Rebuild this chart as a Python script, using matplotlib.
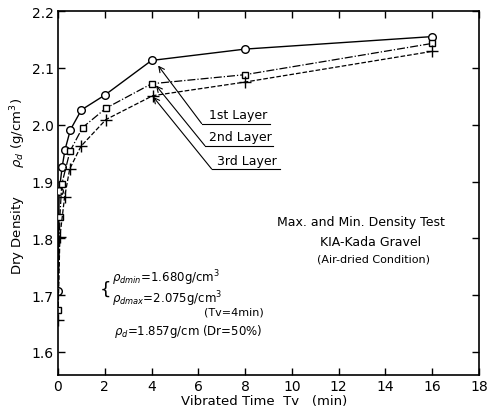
import numpy as np
import matplotlib
matplotlib.use("Agg")
from matplotlib import pyplot as plt

# vibrated time (min) and dry density (g/cm3)
t_1st = [0, 0.05, 0.18, 0.3, 0.53, 1.0, 2.0, 4.0, 8.0, 16.0]
rho_1st = [1.707, 1.883, 1.926, 1.956, 1.991, 2.026, 2.052, 2.113, 2.133, 2.155]

t_2nd = [0, 0.08, 0.16, 0.51, 1.05, 2.05, 4.0, 8.0, 16.0]
rho_2nd = [1.674, 1.838, 1.895, 1.953, 1.995, 2.029, 2.072, 2.088, 2.143]

t_3rd = [0, 0.08, 0.28, 0.5, 0.98, 2.05, 4.05, 8.0, 16.0]
rho_3rd = [1.657, 1.802, 1.872, 1.922, 1.962, 2.009, 2.051, 2.075, 2.129]

layer_names = ["1st Layer", "2nd Layer", "3rd Layer"]

xticks = np.arange(0, 19, 2)
yticks = [1.6, 1.7, 1.8, 1.9, 2.0, 2.1, 2.2]

plt.rcParams['font.family'] = ['DejaVu Sans']
fig = plt.figure(figsize=(4.89, 4.10), dpi=100)
ax = fig.add_axes([0.1186, 0.0829, 0.8610, 0.8878])

ax.plot(t_1st, rho_1st, '-', color='black', lw=1.0, marker='o', ms=5.5,
        mfc='white', mec='black', mew=1.0, zorder=3)
ax.plot(t_2nd, rho_2nd, '-.', color='black', lw=0.9, marker='s', ms=5,
        mfc='white', mec='black', mew=1.0, zorder=3)
ax.plot(t_3rd, rho_3rd, '--', color='black', lw=0.9, marker='+', ms=8,
        mec='black', mew=1.0, zorder=3)

# leader lines to the layer labels
tips = [(4.28, 2.104), (4.19, 2.069), (4.07, 2.049)]
elbows = [(6.14, 2.002), (6.28, 1.963), (6.57, 1.922)]
ends = [9.06, 9.19, 9.49]
text_x = [6.45, 6.45, 6.80]
for name, tip, elb, xe, tx in zip(layer_names, tips, elbows, ends, text_x):
    ax.annotate("", xy=tip, xytext=elb,
                arrowprops=dict(arrowstyle='->', color='black', lw=0.8,
                                shrinkA=0, shrinkB=0))
    ax.plot([elb[0], xe], [elb[1], elb[1]], color='black', lw=0.8)
    ax.text(tx, elb[1] + 0.004, name, fontsize=9, ha='left', va='bottom')

ax.text(12.95, 1.829, "Max. and Min. Density Test", fontsize=9, ha='center', va='center')
ax.text(13.38, 1.794, "KIA-Kada Gravel", fontsize=9, ha='center', va='center')
ax.text(13.5, 1.764, "(Air-dried Condition)", fontsize=8, ha='center', va='center')

ax.text(2.0, 1.713, r"$\{$", fontsize=13, ha='center', va='center')
ax.text(2.3, 1.713,
        "$\\rho_{dmin}$=1.680g/cm$^3$\n$\\rho_{dmax}$=2.075g/cm$^3$",
        fontsize=8.5, ha='left', va='center', linespacing=1.15)
ax.text(7.5, 1.671, "(Tv=4min)", fontsize=8, ha='center', va='center')
ax.text(2.4, 1.637, r"$\rho_d$=1.857g/cm (Dr=50%)", fontsize=8.5, ha='left', va='center')

ax.set_xlim(0, 18)
ax.set_ylim(1.5595, 2.2)
ax.set_xticks(xticks)
ax.set_yticks(yticks)
ax.set_xticklabels([str(v) for v in xticks])
ax.set_yticklabels(["%.1f" % v for v in yticks])
ax.tick_params(direction='in', top=True, right=True, length=5, width=1.0,
               labelsize=10, pad=3)
for s in ax.spines.values():
    s.set_linewidth(1.2)

ax.set_xlabel("Vibrated Time  Tv   (min)", fontsize=9.5)
ax.xaxis.set_label_coords(0.49, -0.052)
ax.set_ylabel(r"Dry Density       $\rho_d$ (g/cm$^3$)", fontsize=9.5)
ax.yaxis.set_label_coords(-0.072, 0.52)

plt.savefig("out.png", dpi=100)
